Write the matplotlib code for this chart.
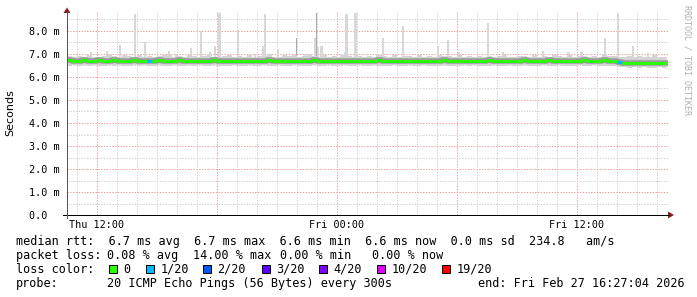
import numpy as np
import matplotlib
matplotlib.use('Agg')
import matplotlib.pyplot as plt
from matplotlib.collections import LineCollection
from matplotlib.patches import Polygon, Rectangle
from matplotlib.lines import Line2D

# ---------------- data ----------------
# time axis: hours since Thu 10:30, 15-minute steps
hours = np.arange(121) * 0.25

median_ms = [
    6.72, 6.71, 6.70, 6.73, 6.71, 6.69, 6.72, 6.70, 6.71, 6.73,
    6.70, 6.68, 6.71, 6.72, 6.70, 6.69, 6.71, 6.70, 6.72, 6.71,
    6.69, 6.70, 6.72, 6.71, 6.68, 6.70, 6.71, 6.69, 6.70, 6.72,
    6.71, 6.69, 6.70, 6.71, 6.70, 6.68, 6.70, 6.71, 6.69, 6.70,
    6.72, 6.70, 6.69, 6.71, 6.70, 6.70, 6.71, 6.69, 6.70, 6.72,
    6.70, 6.69, 6.71, 6.70, 6.68, 6.70, 6.71, 6.70, 6.69, 6.70,
    6.71, 6.70, 6.72, 6.70, 6.69, 6.70, 6.71, 6.70, 6.70, 6.69,
    6.71, 6.70, 6.69, 6.71, 6.70, 6.72, 6.70, 6.69, 6.70, 6.71,
    6.70, 6.71, 6.69, 6.70, 6.72, 6.70, 6.71, 6.70, 6.69, 6.71,
    6.70, 6.72, 6.71, 6.70, 6.69, 6.71, 6.72, 6.70, 6.71, 6.70,
    6.69, 6.71, 6.70, 6.72, 6.71, 6.70, 6.71, 6.72, 6.70, 6.69,
    6.64, 6.63, 6.60, 6.61, 6.59, 6.61, 6.60, 6.62, 6.60, 6.61,
    6.60]

smoke_hi = [
    6.90, 6.88, 6.92, 6.88, 6.95, 6.89, 6.87, 6.93, 6.99, 6.90,
    6.88, 6.97, 6.90, 6.88, 6.96, 6.89, 6.92, 6.88, 6.90, 6.94,
    6.99, 6.89, 6.91, 6.88, 6.96, 6.90, 6.88, 6.93, 6.98, 6.89,
    6.88, 6.91, 6.95, 6.88, 6.90, 6.89, 6.97, 6.88, 6.92, 6.90,
    6.98, 6.89, 6.88, 6.94, 6.90, 6.96, 6.88, 6.91, 6.99, 6.90,
    6.88, 6.95, 6.89, 6.92, 6.88, 6.97, 6.90, 6.88, 6.93, 6.89,
    6.91, 6.88, 6.96, 6.90, 6.89, 6.94, 6.88, 6.92, 6.90, 6.88,
    6.95, 6.89, 6.90, 6.88, 6.97, 6.90, 6.92, 6.88, 6.94, 6.89,
    6.90, 6.88, 6.93, 6.89, 6.91, 6.88, 6.90, 6.96, 6.89, 6.88,
    6.92, 6.90, 6.88, 6.95, 6.89, 6.90, 6.88, 6.97, 6.90, 6.89,
    6.96, 6.88, 6.90, 6.92, 6.89, 6.91, 6.88, 6.98, 6.90, 6.92,
    6.88, 6.86, 6.90, 6.85, 6.93, 6.86, 6.88, 6.94, 6.86, 6.89,
    6.86]

smoke_lo = [
    6.50, 6.52, 6.48, 6.51, 6.49, 6.53, 6.47, 6.50, 6.52, 6.49,
    6.51, 6.46, 6.50, 6.52, 6.48, 6.51, 6.50, 6.47, 6.52, 6.50,
    6.49, 6.51, 6.46, 6.50, 6.52, 6.49, 6.51, 6.48, 6.50, 6.53,
    6.49, 6.50, 6.47, 6.51, 6.50, 6.48, 6.52, 6.50, 6.49, 6.51,
    6.48, 6.50, 6.52, 6.47, 6.50, 6.51, 6.49, 6.50, 6.46, 6.51,
    6.50, 6.49, 6.52, 6.50, 6.47, 6.51, 6.50, 6.49, 6.52, 6.48,
    6.50, 6.51, 6.49, 6.47, 6.50, 6.52, 6.50, 6.49, 6.51, 6.48,
    6.50, 6.52, 6.49, 6.50, 6.47, 6.51, 6.50, 6.48, 6.50, 6.52,
    6.49, 6.51, 6.50, 6.47, 6.50, 6.51, 6.49, 6.50, 6.52, 6.48,
    6.50, 6.51, 6.49, 6.50, 6.47, 6.52, 6.50, 6.49, 6.51, 6.50,
    6.48, 6.50, 6.52, 6.49, 6.50, 6.51, 6.47, 6.50, 6.49, 6.50,
    6.44, 6.42, 6.40, 6.43, 6.39, 6.42, 6.41, 6.40, 6.43, 6.41,
    6.42]

# packets lost (out of 20) per step
loss_count = [0] * 121
loss_count[16] = 1
loss_count[110] = 1

# smoke spikes: hour, peak (ms)
spike_hours = [1.2, 2.0, 2.63, 3.38, 3.88, 5.1, 5.45, 6.2, 6.7, 7.13, 7.38, 7.62,
               8.53, 9.4, 9.8, 9.88, 10.53, 11.88, 12.38, 12.55, 12.72, 13.72,
               13.88, 13.97, 14.42, 15.5, 15.78, 16.78, 18.55, 19.05, 19.58,
               21.05, 21.78, 23.78, 25.05, 25.72, 26.88, 27.55, 28.28, 29.05]
spike_peak = [7.1, 7.15, 7.4, 8.75, 7.5, 7.15, 7.0, 7.25, 8.0, 7.1, 7.35, 8.8,
              8.05, 7.0, 7.35, 8.75, 7.2, 7.0, 7.7, 7.3, 7.35, 7.0,
              7.1, 8.75, 8.8, 7.0, 7.7, 8.2, 7.35, 7.6, 7.1,
              8.35, 7.1, 7.15, 7.1, 7.1, 7.7, 8.75, 7.35, 7.05]
dark_spike_hours = [11.47, 12.45]
dark_spike_peak = [7.7, 8.8]

ytick_vals = [0, 1, 2, 3, 4, 5, 6, 7, 8]
ytick_labels = ['0.0  ', '1.0 m', '2.0 m', '3.0 m', '4.0 m', '5.0 m', '6.0 m', '7.0 m', '8.0 m']
xtick_hours = [1.5, 13.5, 25.5]
xtick_labels = ['Thu 12:00', 'Fri 00:00', 'Fri 12:00']

loss_levels = ['0', '1/20', '2/20', '3/20', '4/20', '10/20', '19/20']
loss_thresholds = [0, 1, 2, 3, 4, 10, 19]
loss_colors = ['#26ff00', '#00b8ff', '#0059ff', '#5e00ff', '#7e00ff', '#dd00ff', '#ff0000']

# ---------------- figure ----------------
W, H = 697, 297
fig = plt.figure(figsize=(W / 100, H / 100), dpi=100)
fig.patch.set_facecolor('white')

def fx(x):
    return x / W

def fy(y):
    return 1 - y / H

PX = 0.72  # one pixel in points

ax = fig.add_axes([fx(67), fy(215), (668 - 67) / W, (215 - 12) / H])
ax.set_xlim(0, 30.05)
ax.set_ylim(0, 203 / 23)
for s in ax.spines.values():
    s.set_visible(False)

# grid
dot = (0, (1.4, 1.4))
for h in np.arange(0.5, 30.05, 1.0):
    major = abs(((h - 1.5) / 6) - round((h - 1.5) / 6)) < 1e-6
    ax.axvline(h, color='#f0a0a0' if major else '#d2d2d2', lw=PX, ls=dot, zorder=0.5)
for v in np.arange(0.5, 8.8, 0.5):
    major = abs(v - round(v)) < 1e-6
    ax.axhline(v, color='#f0a0a0' if major else '#d2d2d2', lw=PX, ls=dot, zorder=0.5)

# smoke
ax.bar(spike_hours, [p - 6.7 for p in spike_peak], bottom=6.7, width=0.11,
       color='#d8d8d8', lw=0, zorder=1.5)
ax.bar(dark_spike_hours, [p - 6.7 for p in dark_spike_peak], bottom=6.7, width=0.05,
       color='#a8a8a8', lw=0, zorder=1.6)
ax.fill_between(hours, smoke_lo, smoke_hi, step='post', color='#d4d4d4', lw=0, zorder=2)
ax.plot(hours, median_ms, color='#9a9a9a', lw=5.5 * PX, drawstyle='steps-post', zorder=2.5)

# median line coloured by loss
def loss_color(n):
    c = loss_colors[0]
    for t, col in zip(loss_thresholds, loss_colors):
        if n >= t:
            c = col
    return c

segs = []
cols = []
for i in range(len(hours) - 1):
    segs.append([(hours[i], median_ms[i]), (hours[i + 1], median_ms[i])])
    segs.append([(hours[i + 1], median_ms[i]), (hours[i + 1], median_ms[i + 1])])
    cols += [loss_color(loss_count[i])] * 2
lc = LineCollection(segs, colors=cols, linewidths=3 * PX, zorder=3, capstyle='butt')
ax.add_collection(lc)

# ticks
mono = 'DejaVu Sans Mono'
ax.set_yticks(ytick_vals)
ax.set_yticklabels(ytick_labels, family=mono, fontsize=7.3)
ax.set_xticks(xtick_hours)
ax.set_xticklabels(xtick_labels, family=mono, fontsize=7.3)
ax.tick_params(axis='y', length=0, pad=5.0)
ax.tick_params(axis='x', length=0, pad=3.5)

# axes lines and arrows
fig.add_artist(Line2D([fx(63), fx(669)], [fy(215), fy(215)], color='black', lw=PX,
                      transform=fig.transFigure))
fig.add_artist(Line2D([fx(67), fx(67)], [fy(218), fy(12)], color='#555555', lw=PX,
                      transform=fig.transFigure))
arrow_c = '#8e1c1c'
fig.add_artist(Polygon([(fx(668), fy(211.5)), (fx(674), fy(215)), (fx(668), fy(218.5))],
                       closed=True, fc=arrow_c, ec='none', transform=fig.transFigure))
fig.add_artist(Polygon([(fx(63.5), fy(13)), (fx(67), fy(7.5)), (fx(70.5), fy(13))],
                       closed=True, fc=arrow_c, ec='none', transform=fig.transFigure))

# labels
fig.text(fx(10), fy(113), 'Seconds', rotation=90, ha='center', va='center',
         family='DejaVu Sans', fontsize=8, color='black')
fig.text(fx(687.5), fy(60), 'RRDTOOL / TOBI OETIKER', rotation=270, ha='center', va='center',
         family=mono, fontsize=6, color='#b0b0b0')

LF = 8.5
def t(x, y, s):
    fig.text(fx(x), fy(y), s, ha='left', va='baseline', family=mono, fontsize=LF, color='black')

t(16, 245, 'median rtt:  6.7 ms avg  6.7 ms max  6.6 ms min  6.6 ms now  0.0 ms sd  234.8   am/s')
t(16, 259, 'packet loss:')
t(107, 259, '0.08 % avg')
t(193, 259, '14.00 % max')
t(280, 259, '0.00 % min')
t(372.5, 259, '0.00 % now')
t(16, 273, 'loss color:')
box_x = [109, 146, 203, 262, 319, 377, 442]
for bx, lab, col in zip(box_x, loss_levels, loss_colors):
    fig.add_artist(Rectangle((fx(bx), fy(273)), 8 / W, 8 / H, transform=fig.transFigure,
                             fc=col, ec='black', lw=PX))
    t(bx + 14.5, 273, lab)
t(16, 287, 'probe:')
t(107, 287, '20 ICMP Echo Pings (56 Bytes) every 300s')
t(478, 287, 'end: Fri Feb 27 16:27:04 2026')

fig.savefig('out.png', dpi=100, facecolor='white')
